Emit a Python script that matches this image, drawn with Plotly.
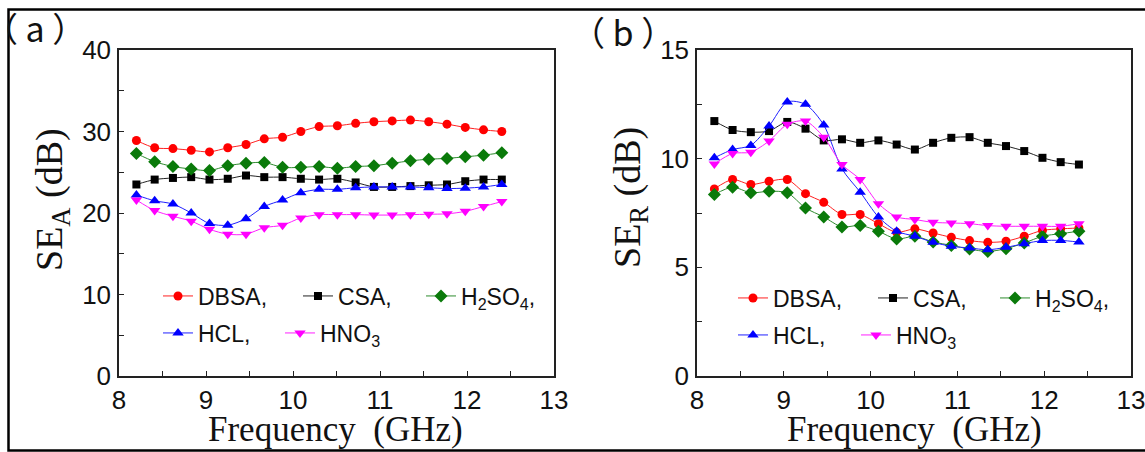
import plotly.graph_objects as go

W, H = 1145, 452

freq = [8.2, 8.41, 8.62, 8.83, 9.04, 9.25, 9.46, 9.67, 9.88, 10.09, 10.3,
        10.51, 10.72, 10.93, 11.14, 11.35, 11.56, 11.77, 11.98, 12.19, 12.4]

# Panel (a): SE_A (dB)
sea_dbsa = [28.9, 28.0, 27.9, 27.7, 27.5, 28.0, 28.4, 29.1, 29.3, 30.0, 30.6,
            30.7, 31.0, 31.2, 31.3, 31.4, 31.2, 30.9, 30.5, 30.2, 30.0]
sea_csa = [23.5, 24.1, 24.3, 24.4, 24.1, 24.2, 24.6, 24.4, 24.4, 24.2, 24.1,
           24.2, 23.75, 23.2, 23.2, 23.3, 23.4, 23.5, 23.9, 24.1, 24.1]
sea_h2so4 = [27.3, 26.3, 25.7, 25.4, 25.2, 25.8, 26.1, 26.2, 25.6, 25.6, 25.7,
             25.5, 25.7, 25.8, 26.1, 26.4, 26.6, 26.7, 26.9, 27.1, 27.4]
sea_hcl = [22.2, 21.5, 21.1, 20.0, 18.7, 18.5, 19.3, 20.8, 21.6, 22.5, 22.9,
           22.9, 23.1, 23.2, 23.2, 23.2, 23.1, 23.0, 23.05, 23.2, 23.5]
sea_hno3 = [21.6, 20.3, 19.6, 19.0, 18.0, 17.4, 17.4, 18.2, 18.5, 19.4, 19.8,
            19.8, 19.8, 19.75, 19.75, 19.8, 19.85, 19.9, 20.2, 20.8, 21.4]

# Panel (b): SE_R (dB)
ser_dbsa = [8.61, 9.04, 8.81, 8.96, 9.04, 8.39, 7.99, 7.43, 7.43, 7.01, 6.61,
            6.77, 6.58, 6.38, 6.23, 6.15, 6.2, 6.43, 6.7, 6.77, 6.81]
ser_csa = [11.73, 11.32, 11.22, 11.27, 11.69, 11.38, 10.84, 10.89, 10.73, 10.84, 10.65,
           10.42, 10.73, 10.96, 10.99, 10.73, 10.58, 10.35, 10.04, 9.84, 9.73]
ser_h2so4 = [8.35, 8.69, 8.43, 8.5, 8.43, 7.73, 7.32, 6.86, 6.93, 6.66, 6.3,
             6.43, 6.17, 6.01, 5.84, 5.73, 5.86, 6.12, 6.43, 6.55, 6.66]
ser_hcl = [10.04, 10.42, 10.61, 11.5, 12.61, 12.5, 11.55, 9.53, 8.46, 7.32, 6.66,
           6.43, 6.15, 5.97, 5.89, 5.81, 5.92, 6.09, 6.23, 6.24, 6.16]
ser_hno3 = [9.76, 10.24, 10.3, 10.81, 11.58, 11.73, 10.99, 9.73, 9.04, 7.93, 7.32,
            7.2, 7.07, 7.04, 7.01, 6.92, 6.89, 6.89, 6.89, 6.89, 7.01]

names = ["DBSA,", "CSA,", "H<sub>2</sub>SO<sub>4</sub>,", "HCL,", "HNO<sub>3</sub>"]
line_colors = ["#ff2020", "#222222", "#2e8b2e", "#2020ff", "#ff20ff"]
marker_colors = ["#ff0000", "#000000", "#0a7a0a", "#0000ff", "#ff00ff"]
symbols = ["circle", "square", "diamond", "triangle-up", "triangle-down"]
msizes = [9, 8, 10, 10, 10]

panel_a = [sea_dbsa, sea_csa, sea_h2so4, sea_hcl, sea_hno3]
panel_b = [ser_dbsa, ser_csa, ser_h2so4, ser_hcl, ser_hno3]

# legend text start positions (px) and row centres (px)
leg_a = [(198, 296), (338, 296), (461, 296), (198, 333), (320, 333)]
leg_b = [(773, 298), (913, 298), (1035, 298), (773, 335), (896, 335)]

fig = go.Figure()
legends = {}
k = 1
for panel, (xa, ya), legpos in [(panel_a, ("x", "y"), leg_a), (panel_b, ("x2", "y2"), leg_b)]:
    for i, vals in enumerate(panel):
        lname = "legend" if k == 1 else f"legend{k}"
        fig.add_trace(go.Scatter(
            x=freq, y=vals, xaxis=xa, yaxis=ya, name=names[i],
            mode="lines+markers", legend=lname,
            line=dict(color=line_colors[i], width=1, shape="spline", smoothing=0.8),
            marker=dict(symbol=symbols[i], size=msizes[i], color=marker_colors[i],
                        line=dict(width=0)),
        ))
        tx, ty = legpos[i]
        legends[lname] = dict(
            x=(tx - 40) / W, y=(H - ty) / H, xanchor="left", yanchor="middle",
            orientation="h", bgcolor="rgba(0,0,0,0)", borderwidth=0,
            font=dict(family="Liberation Sans, Arial", size=23, color="#111111"),
        )
        k += 1

axis_common = dict(
    showline=True, linecolor="#222222", linewidth=1.5, mirror=True,
    ticks="inside", ticklen=5, tickwidth=1.2, tickcolor="#222222",
    showgrid=False, zeroline=False, automargin=False,
    tickfont=dict(family="Liberation Sans, Arial", size=26, color="#111111"),
)

fig.update_layout(
    width=W, height=H,
    margin=dict(l=0, r=0, t=0, b=0, autoexpand=False),
    paper_bgcolor="white", plot_bgcolor="white",
    xaxis=dict(domain=[119 / W, 554 / W], range=[8, 13], dtick=1, tick0=8,
               ticklabeloverflow="allow",
               minor=dict(dtick=0.5, ticks="inside", ticklen=5, tickcolor="#222222"),
               anchor="y", **axis_common),
    yaxis=dict(domain=[76 / H, 402 / H], range=[0, 40], dtick=10, ticklabelstandoff=1,
               minor=dict(dtick=5, ticks="inside", ticklen=5, tickcolor="#222222"),
               anchor="x", **axis_common),
    xaxis2=dict(domain=[697 / W, 1131 / W], range=[8, 13], dtick=1, tick0=8,
                ticklabeloverflow="allow",
                minor=dict(dtick=0.5, ticks="inside", ticklen=5, tickcolor="#222222"),
                anchor="y2", **axis_common),
    yaxis2=dict(domain=[76 / H, 402 / H], range=[0, 15], dtick=5, ticklabelstandoff=1,
                minor=dict(dtick=2.5, ticks="inside", ticklen=5, tickcolor="#222222"),
                anchor="x2", **axis_common),
    showlegend=True,
    **legends,
)

title_font = dict(family="Liberation Serif, Times New Roman", size=35, color="#111111")
ytitle_font = dict(family="Liberation Serif, Times New Roman", size=38, color="#111111")
ann = [
    dict(text="Frequency\u00a0 (GHz)", x=336 / W, y=(H - 429) / H, font=title_font),
    dict(text="Frequency\u00a0 (GHz)", x=914 / W, y=(H - 429) / H, font=title_font),
    dict(text="SE<sub>A</sub> (dB)", x=52 / W, y=(H - 200) / H, textangle=-90, font=ytitle_font),
    dict(text="SE<sub>R</sub> (dB)", x=630 / W, y=(H - 198) / H, textangle=-90, font=ytitle_font),
    dict(text="（ a ）", x=35 / W, y=(H - 28) / H,
         font=dict(family="Noto Sans CJK SC", size=34, color="#111111")),
    dict(text="（ b ）", x=623 / W, y=(H - 31) / H,
         font=dict(family="Noto Sans CJK SC", size=34, color="#111111")),
]
for a in ann:
    a.update(xref="paper", yref="paper", showarrow=False, xanchor="center", yanchor="middle")
fig.update_layout(annotations=ann)

fig.add_shape(type="rect", xref="paper", yref="paper",
              x0=8.5 / W, x1=1.05, y0=(H - 450.5) / H, y1=(H - 9.5) / H,
              line=dict(color="black", width=2.5), fillcolor="rgba(0,0,0,0)")

fig.write_html("out.html")
